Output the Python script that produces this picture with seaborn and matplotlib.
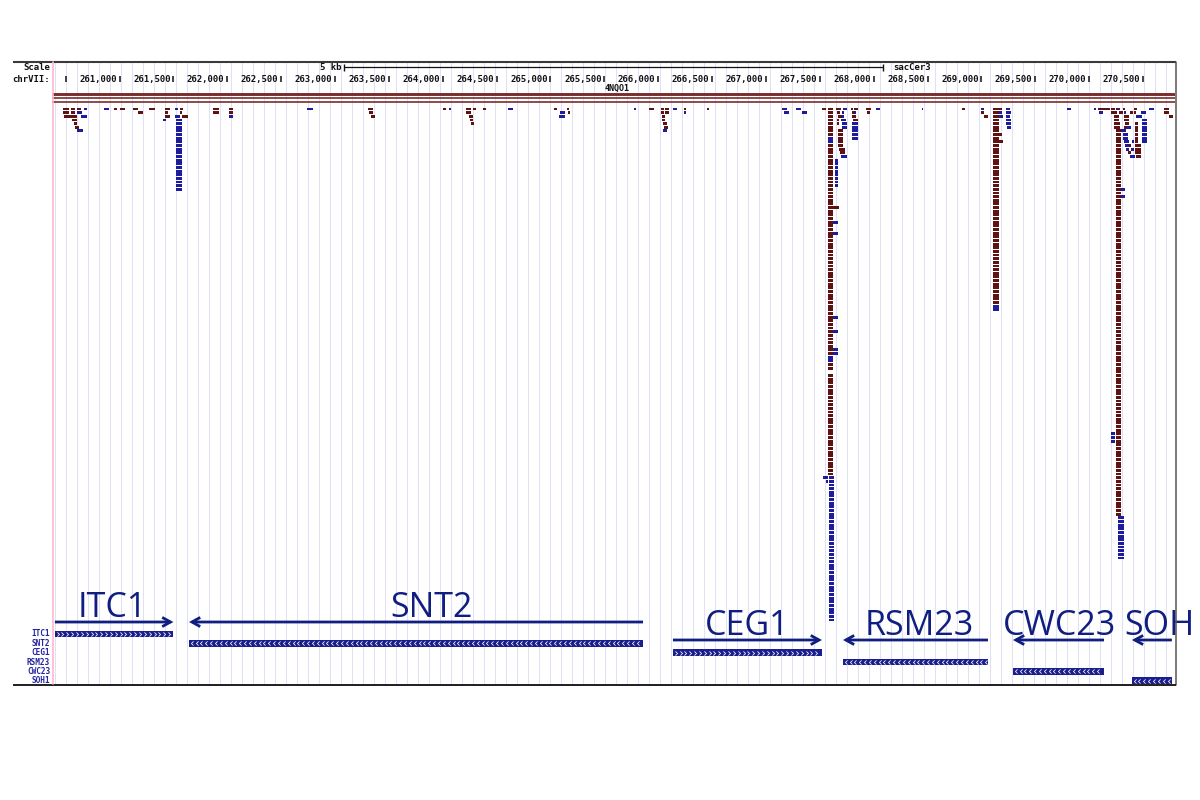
import numpy as np
import pandas as pd
import matplotlib
matplotlib.use("Agg")
import matplotlib.pyplot as plt
import seaborn as sns
from matplotlib.path import Path
from matplotlib.patches import FancyArrowPatch

# ---------------- data ----------------
view_start, view_end = 260373, 270797
tick_values = [260500, 261000, 261500, 262000, 262500, 263000, 263500, 264000,
               264500, 265000, 265500, 266000, 266500, 267000, 267500, 268000,
               268500, 269000, 269500, 270000, 270500]
scale_bar_bp = 5000
scale_label = "5 kb"
assembly = "sacCer3"
chrom_label = "chrVII:"
track_name = "4NQO1"

gene_names = ["ITC1", "SNT2", "CEG1", "RSM23", "CWC23", "SOH1"]
gene_start = [260400, 261645, 266137, 267715, 269293, 270397]
gene_end = [261500, 265859, 267520, 269061, 270138, 270768]
gene_strand = ["+", "-", "+", "-", "-", "-"]
big_labels = ["ITC1", "SNT2", "CEG1", "RSM23", "CWC23", "SOH"]

# scattered reads: (start bp, end bp, pileup row)
plus_reads = [
    (260478, 260533, 0), (260546, 260586, 0), (260605, 260642, 0),
    (260478, 260533, 1), (260546, 260586, 1),
    (260484, 260546, 2), (260548, 260602, 2),
    (260561, 260602, 3), (260577, 260608, 4), (260589, 260626, 5),
    (260948, 260973, 0), (261001, 261053, 0), (261122, 261171, 0), (261273, 261326, 0),
    (261422, 261465, 0), (261561, 261586, 0), (261867, 261923, 0), (262016, 262053, 0),
    (261171, 261218, 1), (261422, 261450, 1), (261561, 261580, 1), (261867, 261923, 1),
    (262016, 262053, 1), (261422, 261465, 2), (261577, 261632, 2),
    (263309, 263355, 0), (263315, 263355, 1), (263330, 263370, 2),
    (264002, 264030, 0), (264216, 264262, 0), (264281, 264309, 0), (264374, 264402, 0),
    (265033, 265061, 0), (265154, 265172, 0), (265915, 265961, 0), (266027, 266055, 0),
    (266064, 266101, 0), (266240, 266258, 0), (266453, 266472, 0),
    (264216, 264262, 1), (265163, 265182, 1), (266027, 266055, 1), (266064, 266101, 1),
    (264244, 264281, 2), (266036, 266064, 2), (264253, 264281, 3), (266036, 266064, 3),
    (264262, 264290, 4), (266045, 266082, 4), (266055, 266092, 5),
    (267519, 267554, 0), (267647, 267697, 0), (267789, 267811, 0), (267820, 267857, 0),
    (267929, 267972, 0), (267657, 267688, 1), (267796, 267820, 1), (267935, 267966, 1),
    (267666, 267703, 2), (267796, 267833, 2), (267657, 267680, 3), (267811, 267857, 3),
    (267657, 267680, 4), (267666, 267712, 6), (267666, 267712, 7), (267666, 267712, 8),
    (267666, 267717, 9), (267666, 267717, 10), (267678, 267731, 11), (267688, 267731, 12),
    (267623, 267675, 27),
    (268822, 268847, 0), (269149, 269190, 0), (268997, 269028, 1), (269021, 269058, 2),
    (269149, 269190, 7), (269152, 269198, 9),
    (270079, 270135, 0), (270141, 270191, 0), (270204, 270244, 0), (270250, 270268, 0),
    (270311, 270333, 0), (270413, 270444, 0), (270698, 270744, 0),
    (270204, 270260, 1), (270274, 270315, 1), (270378, 270409, 1), (270413, 270438, 1),
    (270698, 270744, 1), (270229, 270275, 2), (270320, 270372, 2), (270738, 270779, 2),
    (270229, 270275, 3), (270320, 270372, 3),
    (270229, 270282, 4), (270330, 270367, 4), (270423, 270453, 4),
    (270229, 270282, 5), (270320, 270351, 5), (270423, 270453, 5),
    (270423, 270453, 6), (270423, 270453, 7), (270423, 270453, 8), (270423, 270458, 9),
    (270367, 270389, 10), (270423, 270478, 10), (270429, 270484, 11),
    (270361, 270392, 12), (270429, 270484, 12), (270432, 270484, 13),
]
minus_reads = [
    (260670, 260695, 0), (260602, 260649, 1), (260642, 260695, 2), (260608, 260658, 6),
    (260856, 260902, 0), (261512, 261542, 0), (262737, 262793, 0),
    (262016, 262053, 2), (261512, 261561, 2), (261403, 261431, 3),
    (264058, 264077, 0), (264606, 264652, 0), (265776, 265795, 0), (266138, 266175, 0),
    (267149, 267196, 0), (267280, 267326, 0),
    (265089, 265135, 1), (266240, 266258, 1), (267165, 267212, 1), (267336, 267382, 1),
    (265080, 265135, 2), (266045, 266082, 6),
    (267718, 267753, 0), (268019, 268059, 0), (267703, 267728, 1), (267817, 267836, 1),
    (267703, 267728, 2), (267700, 267746, 3), (267705, 267750, 4), (267705, 267750, 5),
    (267800, 267855, 4), (267800, 267855, 5), (267800, 267855, 6), (267800, 267855, 7),
    (267800, 267855, 8), (267697, 267750, 13),
    (267638, 267669, 14), (267638, 267669, 15), (267638, 267669, 16), (267638, 267669, 17),
    (267638, 267669, 18), (267638, 267669, 19), (267638, 267669, 20), (267638, 267669, 21),
    (267622, 267670, 31), (267622, 267670, 34), (267622, 267670, 57), (267622, 267670, 61),
    (267622, 267670, 66), (267622, 267670, 67),
    (267527, 267579, 101), (267555, 267579, 102),
    (268446, 268461, 0), (268997, 269028, 0), (269224, 269268, 0),
    (269159, 269190, 1), (269224, 269274, 1), (269166, 269197, 2), (269224, 269268, 2),
    (269230, 269274, 3), (269230, 269274, 4), (269242, 269274, 5),
    (269792, 269829, 0), (270043, 270067, 0),
    (270268, 270283, 0), (270558, 270602, 0), (270094, 270128, 1), (270320, 270345, 1),
    (270484, 270530, 1), (270438, 270490, 2), (270490, 270540, 3), (270490, 270540, 4),
    (270351, 270387, 5), (270490, 270540, 5), (270296, 270342, 6), (270490, 270540, 6),
    (270311, 270357, 7), (270490, 270540, 7), (270311, 270357, 8), (270490, 270540, 8),
    (270320, 270367, 9), (270395, 270420, 9), (270490, 270536, 9),
    (270330, 270374, 10), (270345, 270374, 11), (270385, 270416, 11), (270376, 270423, 13),
    (270296, 270335, 22), (270296, 270330, 24),
    (270204, 270244, 89), (270204, 270244, 90), (270204, 270244, 91),
]

# deep pileups: one read per row, strand runs counted from the picture
pile_start = [261524, 267576, 267583, 269105, 270248, 270268]
pile_end = [261577, 267622, 267632, 269160, 270295, 270324]
pile_first_row = [3, 0, 101, 0, 6, 112]
pile_runs = [
    [("R", 20)],
    [("F", 8), ("R", 2), ("F", 58), ("R", 2), ("F", 2), (".", 1), ("F", 28)],
    [("R", 40)],
    [("F", 54), ("R", 2)],
    [("F", 106)],
    [("R", 12)],
]

# ---------------- style / layout ----------------
sns.set_theme(style="white")
plt.rcParams["font.family"] = ["DejaVu Sans"]

FWD = "#5e1212"
REV = "#1c1c9c"
GENE = "#1b1f8e"
NAVY = "#0f1e80"
MONO = dict(family="DejaVu Sans Mono", weight="bold", color="#111111")

ROW0, ROW_STEP, READ_H = 109.0, 3.65, 2.9
GENE_ROW0, GENE_STEP, GENE_H = 634.0, 9.35, 6.8
L, R, T, B = 52, 1175, 62, 684

fig = plt.figure(figsize=(12, 8), dpi=100)
fig.patch.set_facecolor("white")
ax = fig.add_axes([L / 1200, 1 - B / 800, (R - L) / 1200, (B - T) / 800])
ax.set_xlim(view_start, view_end)
ax.set_ylim(B, T)
ax.axis("off")

# guidelines (every 11 screen px of the browser)
guide_step = (view_end - view_start) / (R - L) * 11
guides = 260500 + guide_step * np.arange(-1, 101)
ax.vlines(guides, T, B, colors="#e1e1f6", lw=0.75, zorder=0)

# ruler
ax.vlines(tick_values, 75.8, 81.8, colors="#111111", lw=1.1, zorder=3)
for v in tick_values[1:]:
    ax.text(v - 25, 79.0, f"{v:,}", ha="right", va="center", fontsize=6.5, zorder=3, **MONO)
mid = (view_start + view_end) / 2
sb0, sb1 = mid - scale_bar_bp / 2, mid + scale_bar_bp / 2
ax.hlines(67.2, sb0, sb1, colors="#111111", lw=0.9, zorder=3)
ax.vlines([sb0, sb1], 63.8, 70.6, colors="#111111", lw=1.0, zorder=3)
ax.text(sb0 - 28, 67.8, scale_label, ha="right", va="center", fontsize=6.5, **MONO)
ax.text(sb1 + 95, 67.8, assembly, ha="left", va="center", fontsize=6.5, **MONO)
ax.text(mid + 30, 88.5, track_name, ha="center", va="center", fontsize=6.0, **MONO)

# dense coverage lines
ax.hlines([94.2, 98.0, 101.7], view_start, view_end, colors="#7b2d2d",
          lw=[2.1, 1.2, 1.2], zorder=2)

# reads
rows = []
for s, e, r in plus_reads:
    rows.append((s, e, r, "F"))
for s, e, r in minus_reads:
    rows.append((s, e, r, "R"))
for s, e, r0, runs in zip(pile_start, pile_end, pile_first_row, pile_runs):
    r = r0
    for strand, n in runs:
        for _ in range(n):
            if strand != ".":
                rows.append((s, e, r, strand))
            r += 1
reads = pd.DataFrame(rows, columns=["start", "end", "row", "strand"])
reads["y"] = ROW0 + reads["row"] * ROW_STEP
for strand, col in (("F", FWD), ("R", REV)):
    d = reads[reads.strand == strand]
    ax.bar(x=d["start"], height=READ_H, width=d["end"] - d["start"],
           bottom=d["y"] - READ_H / 2, align="edge", color=col, linewidth=0, zorder=3)

# gene track
chev_r = Path([(-0.5, 1.0), (0.5, 0.0), (-0.5, -1.0)], [Path.MOVETO, Path.LINETO, Path.LINETO])
chev_l = Path([(0.5, 1.0), (-0.5, 0.0), (0.5, -1.0)], [Path.MOVETO, Path.LINETO, Path.LINETO])
gy = GENE_ROW0 + GENE_STEP * np.arange(len(gene_names))
ax.bar(x=gene_start, height=GENE_H, width=np.array(gene_end) - np.array(gene_start),
       bottom=gy - GENE_H / 2, align="edge", color=GENE, linewidth=0, zorder=3)
for s, e, st, y in zip(gene_start, gene_end, gene_strand, gy):
    xs = np.arange(s + 25, e - 15, 45)
    ax.plot(xs, np.full(len(xs), y), ls="none", marker=chev_r if st == "+" else chev_l,
            ms=3.0, mfc="none", mec="white", mew=0.55, zorder=4)

# big annotation labels and arrows
label_center = [260930, 263896, 266829, 268421, 269725, 270649]
label_base = [617, 617, 635, 635, 635, 635]
arrow_y = [622, 622, 640, 640, 640, 640]
for name, c, by, s, e, st, ay in zip(big_labels, label_center, label_base,
                                      gene_start, gene_end, gene_strand, arrow_y):
    ax.text(c, by, name, ha="center", va="baseline", fontsize=24.5, family="Open Sans",
            color=NAVY, zorder=6, clip_on=False)
    tail, head = (s, e) if st == "+" else (min(e, view_end), s)
    arr = FancyArrowPatch((tail, ay), (head, ay),
                          arrowstyle="->,head_length=6,head_width=3.3", mutation_scale=1,
                          lw=2.0, color=NAVY, shrinkA=0, shrinkB=0, zorder=6,
                          clip_on=False, joinstyle="miter", capstyle="butt")
    ax.add_patch(arr)

# overlay: frame, left labels
ov = fig.add_axes([0, 0, 1, 1], zorder=5)
ov.set_xlim(0, 1200)
ov.set_ylim(800, 0)
ov.axis("off")
ov.patch.set_alpha(0)
ov.plot([13, 1176], [61.5, 61.5], color="#3a3a3a", lw=1.5, solid_capstyle="butt")
ov.plot([1175.5, 1175.5], [61.5, 684.5], color="#555555", lw=1.1)
ov.plot([13, 1176], [684.6, 684.6], color="#1e1e1e", lw=1.4, solid_capstyle="butt")
ov.plot([52.6, 52.6], [62, 684], color="#ffb6cf", lw=1.2)
ov.text(50, 68.0, "Scale", ha="right", va="center", fontsize=6.5, **MONO)
ov.text(50, 79.0, chrom_label, ha="right", va="center", fontsize=6.5, **MONO)
for name, y in zip(gene_names, gy):
    ov.text(50, y, name, ha="right", va="center", fontsize=5.6, family="DejaVu Sans Mono",
            weight="bold", color="#2424a0")

fig.savefig("out.png", dpi=100)
